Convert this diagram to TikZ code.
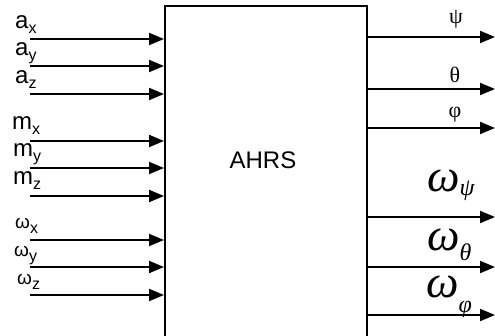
\documentclass[tikz,border=0pt]{standalone}
\usepackage{fontspec}
\setmainfont{Liberation Sans}
\newfontfamily\greekserif{Liberation Serif}
\usetikzlibrary{arrows.meta}

% input and output labels
\newcommand{\insig}[2]{{\fontsize{24}{24}\selectfont #1}{\fontsize{16}{16}\selectfont\raisebox{-5pt}{#2}}}
\newcommand{\inrate}[1]{{\fontsize{19}{19}\selectfont ω}{\fontsize{16}{16}\selectfont\raisebox{-5pt}{#1}}}
\newcommand{\outrate}[2]{{\greekserif\itshape{\fontsize{46}{46}\selectfont ω}\raisebox{#2}{\fontsize{24}{24}\selectfont #1}}}

\tikzset{
  sig/.style={line width=2pt, -{Triangle[length=15pt,width=12pt]}},
  block/.style={draw, line width=2pt, minimum width=202pt, minimum height=340pt, inner sep=0pt},
  inlab/.style={anchor=base west, inner sep=0pt},
  outlab/.style={anchor=base, inner sep=0pt, font=\fontsize{22}{22}\selectfont\greekserif},
  ratelab/.style={anchor=base west, inner sep=0pt},
}

\begin{document}
\begin{tikzpicture}[x=1pt, y=-1pt]

    \useasboundingbox (0,0) rectangle (495,336);

    % Define nodes
    \node[block]                     (ahrs) at (266,176) {};
    \node[font=\fontsize{24}{24}\selectfont] (ahrs-text) at (263,160) {AHRS};

    \coordinate (ax) at (30,39);
    \coordinate (ay) at (30,66);
    \coordinate (az) at (30,94);
    \coordinate (mx) at (30,141);
    \coordinate (my) at (30,168);
    \coordinate (mz) at (30,196);
    \coordinate (wx) at (30,240);
    \coordinate (wy) at (30,267);
    \coordinate (wz) at (30,295);

    \node[inlab] (ax-lab) at (15,29)  {\insig{a}{x}};
    \node[inlab] (ay-lab) at (15,56)  {\insig{a}{y}};
    \node[inlab] (az-lab) at (15,84)  {\insig{a}{z}};
    \node[inlab] (mx-lab) at (12,130) {\insig{m}{x}};
    \node[inlab] (my-lab) at (13,157) {\insig{m}{y}};
    \node[inlab] (mz-lab) at (13,185) {\insig{m}{z}};
    \node[inlab] (wx-lab) at (15,229) {\inrate{x}};
    \node[inlab] (wy-lab) at (14,257) {\inrate{y}};
    \node[inlab] (wz-lab) at (17,285) {\inrate{z}};

    \coordinate (psi)    at (495,37);
    \coordinate (theta)  at (495,89);
    \coordinate (phi)    at (495,128);
    \coordinate (dpsi)   at (495,217);
    \coordinate (dtheta) at (495,267);
    \coordinate (dphi)   at (495,315);

    \node[outlab]  (psi-lab)    at (456,24)  {ψ};
    \node[outlab]  (theta-lab)  at (455,83)  {θ};
    \node[outlab]  (phi-lab)    at (455,118) {φ};
    \node[ratelab] (dpsi-lab)   at (427,192) {\outrate{ψ}{-4pt}};
    \node[ratelab] (dtheta-lab) at (427,251) {\outrate{θ}{-10pt}};
    \node[ratelab] (dphi-lab)   at (426,298) {\outrate{φ}{-15pt}};

    % Connect the nodes
    \foreach \s in {ax,ay,az,mx,my,mz,wx,wy,wz}
      \draw[sig] (\s) -- (\s -| ahrs.west);
    \foreach \s in {psi,theta,phi,dpsi,dtheta,dphi}
      \draw[sig] (\s -| ahrs.east) -- (\s);

\end{tikzpicture}
\end{document}
